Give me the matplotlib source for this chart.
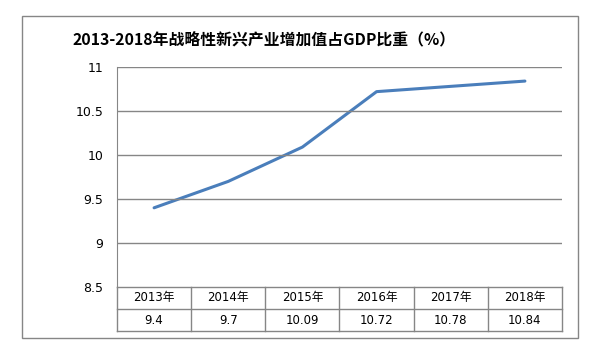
import matplotlib.pyplot as plt
from matplotlib.patches import Rectangle

# data
years = ["2013年", "2014年", "2015年", "2016年", "2017年", "2018年"]
values = [9.4, 9.7, 10.09, 10.72, 10.78, 10.84]
value_labels = ["9.4", "9.7", "10.09", "10.72", "10.78", "10.84"]
yticks = [8.5, 9, 9.5, 10, 10.5, 11]
ytick_labels = ["8.5", "9", "9.5", "10", "10.5", "11"]
title = "2013-2018年战略性新兴产业增加值占GDP比重（%）"

plt.rcParams['font.family'] = ['DejaVu Sans', 'Noto Sans CJK SC']

W, H = 603, 358
fig = plt.figure(figsize=(W / 100, H / 100), dpi=100)
grid_c = "#868686"

# outer chart frame
fig.patches.append(Rectangle((22 / W, 1 - 338 / H), (578 - 22) / W, (338 - 16) / H,
                             transform=fig.transFigure, fill=False,
                             edgecolor=grid_c, linewidth=1))

fig.text(264 / W, 1 - 40 / H, title, ha="center", va="center",
         fontsize=11.4, fontweight="bold", family=['Noto Sans CJK SC', 'DejaVu Sans'])

# plot area
left, right, top, bottom = 117, 562, 67, 287
ax = fig.add_axes([left / W, 1 - bottom / H, (right - left) / W, (bottom - top) / H])
x = list(range(len(years)))
ax.plot(x, values, color="#4A7EBB", linewidth=2.2, solid_capstyle="round")
ax.set_xlim(-0.5, len(years) - 0.5)
ax.set_ylim(8.5, 11)
ax.set_yticks(yticks)
ax.set_yticklabels(ytick_labels, fontsize=9)
ax.tick_params(axis="y", length=0, pad=10)
ax.set_xticks([])
for y in yticks[1:]:
    ax.axhline(y, color=grid_c, linewidth=1)
for s in ["top", "right", "bottom"]:
    ax.spines[s].set_visible(False)
ax.spines["left"].set_color(grid_c)

# data table below
tb_bottom = 331
tax = fig.add_axes([left / W, 1 - tb_bottom / H, (right - left) / W, (tb_bottom - bottom) / H])
tax.set_xlim(-0.5, len(years) - 0.5)
tax.set_ylim(0, 2)
tax.axis("off")
for yy in [0, 1, 2]:
    tax.axhline(yy, color=grid_c, linewidth=1, clip_on=False)
for i in range(len(years) + 1):
    tax.axvline(i - 0.5, color=grid_c, linewidth=1, clip_on=False)
for i, (yr, lab) in enumerate(zip(years, value_labels)):
    tax.text(i, 1.5, yr, ha="center", va="center", fontsize=8.5)
    tax.text(i, 0.5, lab, ha="center", va="center", fontsize=8.5)

fig.savefig("out.png", dpi=100)
